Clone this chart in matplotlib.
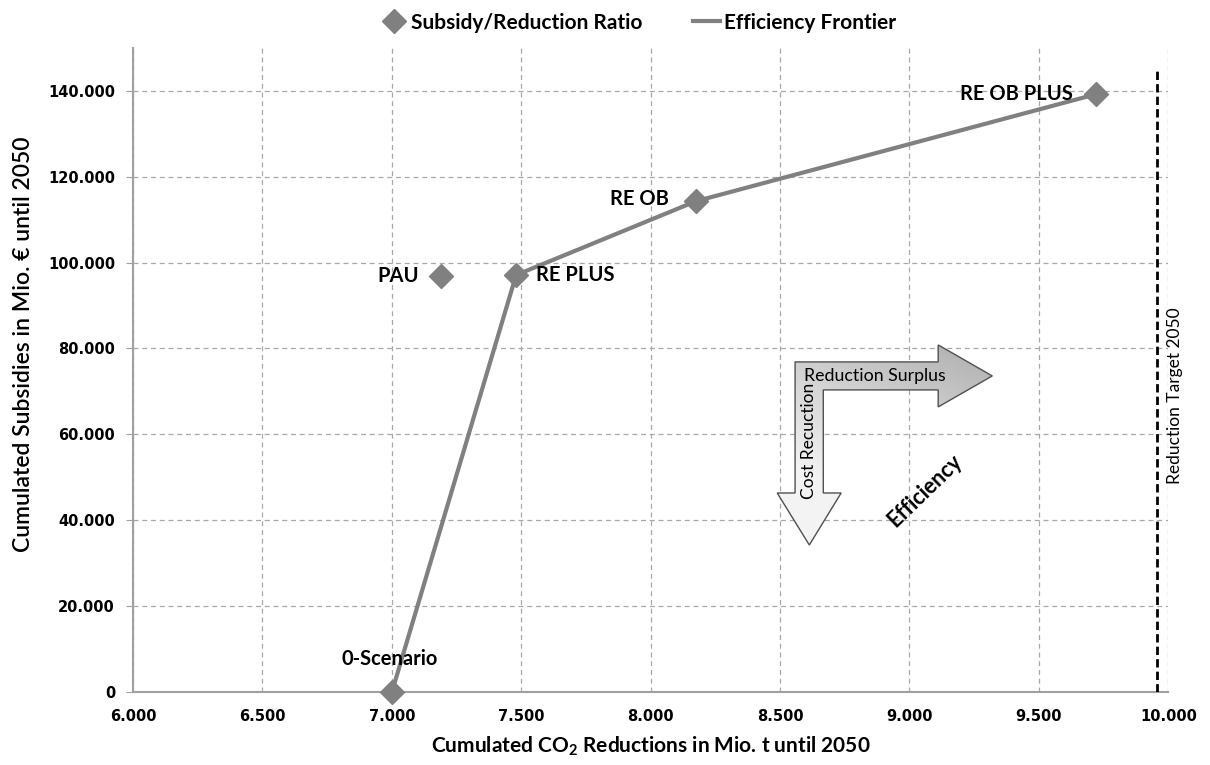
import numpy as np
import matplotlib.pyplot as plt
from matplotlib.patches import Polygon
from matplotlib.lines import Line2D
from matplotlib.ticker import FuncFormatter, MultipleLocator

# scenario data (CO2 reductions in Mio. t, subsidies in Mio. EUR)
scenarios = ['0-Scenario', 'PAU', 'RE PLUS', 'RE OB', 'RE OB PLUS']
co2_red = [7000, 7190, 7480, 8175, 9720]
subsidies = [0, 96800, 97100, 114300, 139200]
frontier = ['0-Scenario', 'RE PLUS', 'RE OB', 'RE OB PLUS']
target_2050 = 9955

# label offsets in pixels and alignment
label_pos = {
    '0-Scenario': ((-2, 33), 'center'),
    'PAU': ((-22, 0), 'right'),
    'RE PLUS': ((20, 0), 'left'),
    'RE OB': ((-27, 2), 'right'),
    'RE OB PLUS': ((-23, 0), 'right'),
}

gray = '#808080'
lab_font = ['Lato', 'DejaVu Sans']

fig = plt.figure(figsize=(12.1, 7.65), dpi=100)
ax = fig.add_axes([0.110, 0.0954, 0.8555, 0.842])

fx = [co2_red[scenarios.index(s)] for s in frontier]
fy = [subsidies[scenarios.index(s)] for s in frontier]
ax.plot(fx, fy, color=gray, lw=3, zorder=3)
ax.plot(co2_red, subsidies, ls='none', marker='D', ms=12, color=gray, zorder=4,
        clip_on=False)

for s, x, y in zip(scenarios, co2_red, subsidies):
    off, ha = label_pos[s]
    ax.annotate(s, (x, y), xytext=off, textcoords='offset pixels', ha=ha, va='center',
                fontsize=14.5, fontweight='bold', family=lab_font, zorder=5)

# reduction target line
ax.plot([target_2050, target_2050], [0, 145000], color='black', ls=(0, (3, 1.5)), lw=2, zorder=3)
ax.text(target_2050 + 70, 69000, 'Reduction Target 2050', rotation=90, ha='center', va='center',
        fontsize=12.5, family=lab_font)

# L-shaped efficiency arrow
arrow = np.array([
    [8558, 76870], [9111, 76870], [9111, 80830], [9320, 73610], [9111, 66390],
    [9111, 70350], [8667, 70350], [8667, 46350], [8736, 46350], [8613, 34240],
    [8489, 46350], [8558, 46350],
])
poly = Polygon(arrow, closed=True, facecolor='none', edgecolor='#505050', lw=1, zorder=6)
ax.add_patch(poly)
gx, gy = np.meshgrid(np.linspace(0, 1, 50), np.linspace(0, 1, 100))
grad = np.clip(0.68 + 0.26 * gy + 0.12 * (1 - gx), 0, 0.95)
img = ax.imshow(grad, cmap='gray', vmin=0, vmax=1, origin='upper', aspect='auto',
                extent=[8489, 9320, 34240, 80830], zorder=5)
img.set_clip_path(poly)
ax.text(8865, 73610, 'Reduction Surplus', ha='center', va='center', fontsize=12.8,
        family=lab_font, zorder=7)
ax.text(8613, 58500, 'Cost Recuction', rotation=90, ha='center', va='center', fontsize=12.5,
        family=lab_font, zorder=7)
ax.text(9060, 46800, 'Efficiency', rotation=44, ha='center', va='center', fontsize=15.5,
        fontweight='bold', family=lab_font, zorder=7)

ax.set_xlim(6000, 10000)
ax.set_ylim(0, 150000)
ax.xaxis.set_major_locator(MultipleLocator(500))
ax.yaxis.set_major_locator(MultipleLocator(20000))
fmt = FuncFormatter(lambda v, p: f'{v:,.0f}'.replace(',', '.'))
ax.xaxis.set_major_formatter(fmt)
ax.yaxis.set_major_formatter(fmt)
for lab in ax.get_xticklabels() + ax.get_yticklabels():
    lab.set_fontweight('bold')
    lab.set_fontsize(10.5)
ax.tick_params(axis='y', length=5, color='#a0a0a0', pad=8)
ax.tick_params(axis='x', length=0, pad=12)

ax.grid(True, ls=(0, (4, 3)), color='#a8a8a8', lw=0.9)
ax.set_axisbelow(True)
for side in ['top', 'right']:
    ax.spines[side].set_visible(False)
for side in ['left', 'bottom']:
    ax.spines[side].set_color('#a0a0a0')
    ax.spines[side].set_linewidth(1.5)

ax.set_xlabel(r'Cumulated CO$_\mathregular{2}$ Reductions in Mio. t until 2050', fontsize=15,
              fontweight='bold', family=lab_font, labelpad=8)
ax.set_ylabel('Cumulated Subsidies in Mio. € until 2050', fontsize=16.5, fontweight='semibold',
              family=lab_font)
ax.yaxis.set_label_coords(-0.096, 0.54)

handles = [
    Line2D([], [], ls='none', marker='D', ms=12, color=gray),
    Line2D([], [], color=gray, lw=3),
]
ax.legend(handles, ['Subsidy/Reduction Ratio', 'Efficiency Frontier'], loc='center',
          bbox_to_anchor=(0.488, 1.039), ncol=2, frameon=False, handlelength=1.3,
          columnspacing=2.4, handletextpad=0.2,
          prop={'family': lab_font, 'weight': 'bold', 'size': 15})

fig.savefig('out.png', dpi=100)
